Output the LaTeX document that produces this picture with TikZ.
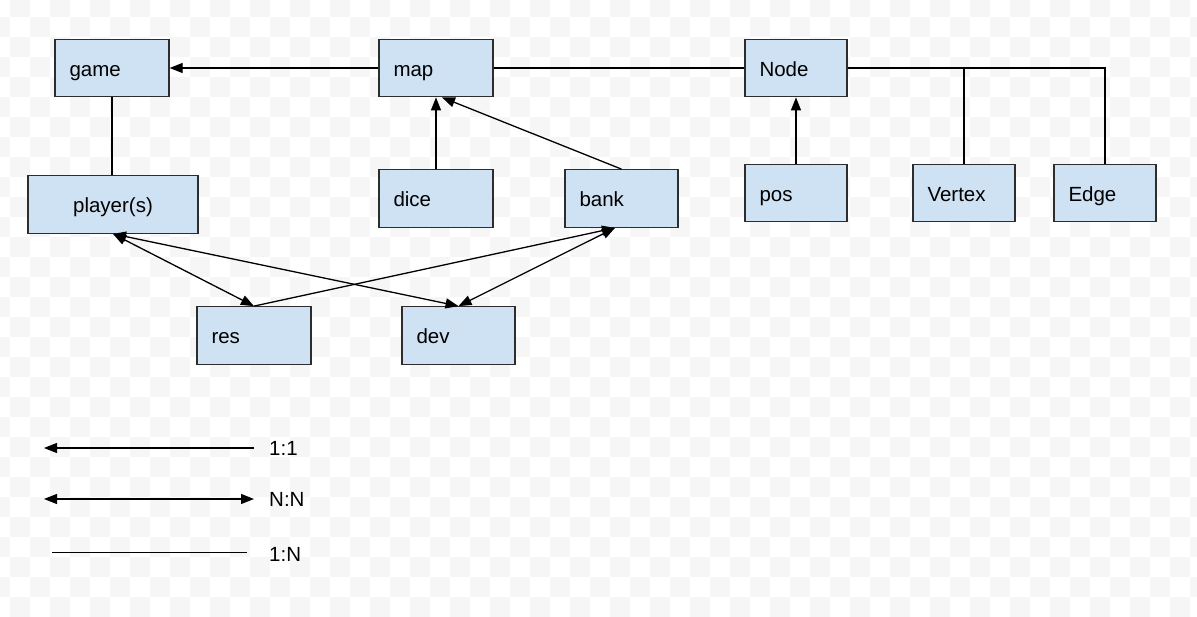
\documentclass[tikz,border=0pt]{standalone}
\usepackage{fontspec}
\setmainfont{Liberation Sans}
\usetikzlibrary{arrows.meta}
\definecolor{boxfill}{RGB}{207,226,243}
\definecolor{boxline}{RGB}{45,45,45}
\definecolor{checker}{RGB}{246,246,246}
\begin{document}
\begin{tikzpicture}[x=1pt,y=-1pt,
  every node/.style={font=\fontsize{20.5}{24}\selectfont},
  box/.style={rectangle,draw=boxline,fill=boxfill,line width=1.3pt,
    minimum height=57.5pt,inner xsep=14.5pt,inner ysep=0pt,
    text height=18pt,text depth=2pt,align=left},
  conn/.style={draw=black,line width=1.3pt},
  arr/.style={conn,-{Triangle[length=13pt,width=10pt]}},
  darr/.style={conn,{Triangle[length=13pt,width=10pt]}-{Triangle[length=13pt,width=10pt]}},
  legend/.style={anchor=base west,inner sep=0pt}
]
\useasboundingbox (0,0) rectangle (1197,616);
\fill[white] (0,0) rectangle (1197,616);
\begin{scope}
\clip (0,0) rectangle (1197,616);
\foreach \i in {-1,...,59}{
  \foreach \j in {-1,...,30}{
    \pgfmathtruncatemacro\cpar{mod(\i+\j+100,2)}
    \ifnum\cpar=1
      \fill[checker] (10+20*\i,16.7+20*\j) rectangle ++(20,20);
    \fi
  }
}
\end{scope}

% boxes
\node[box,minimum width=114pt,text width=85pt] (game) at (112,68) {game};
\node[box,minimum width=170pt,text width=141pt,align=center] (player) at (113,204.5) {player(s)};
\node[box,minimum width=114pt,text width=85pt] (map) at (436,68) {map};
\node[box,minimum width=114pt,text width=85pt] (dice) at (436,198.5) {dice};
\node[box,minimum width=113pt,text width=84pt] (bank) at (621.5,198.5) {bank};
\node[box,minimum width=102pt,text width=73pt] (Node) at (796,68) {Node};
\node[box,minimum width=102pt,text width=73pt] (pos) at (796,193) {pos};
\node[box,minimum width=102pt,text width=73pt] (Vertex) at (964,193) {Vertex};
\node[box,minimum width=102pt,text width=73pt] (Edge) at (1105,193) {Edge};
\node[box,minimum width=114pt,text width=85pt] (res) at (254,335.5) {res};
\node[box,minimum width=113pt,text width=84pt] (dev) at (458.5,335.5) {dev};

% connectors
\draw[arr] (map.west) -- (game.east);
\draw[conn] (map.east) -- (Node.west);
\draw[conn] (game.south) -- (game.south |- player.north);
\draw[arr] (dice.north) -- (map.south);
\draw[arr] (bank.north) -- ([xshift=6pt]map.south);
\draw[arr] (pos.north) -- (Node.south);
\draw[conn] (Node.east) -| (Vertex.north);
\draw[conn] (Node.east) -| (Edge.north);
\draw[darr] (player.south) -- (res.north);
\draw[darr] (player.south) -- (dev.north);
\draw[arr] (res.north) -- ([xshift=-6.5pt]bank.south);
\draw[darr] ([xshift=-6.5pt]bank.south) -- (dev.north);

% legend
\coordinate (l1a) at (254,448); \coordinate (l1b) at (44,448);
\coordinate (l2a) at (44,499); \coordinate (l2b) at (254,499);
\coordinate (l3a) at (52,552.5); \coordinate (l3b) at (247,552.5);
\draw[arr] (l1a) -- (l1b);
\draw[darr] (l2a) -- (l2b);
\draw[conn] (l3a) -- (l3b);
\node[legend] (t1) at (269,455) {1:1};
\node[legend] (t2) at (269,506) {N:N};
\node[legend] (t3) at (269,561) {1:N};
\end{tikzpicture}
\end{document}
